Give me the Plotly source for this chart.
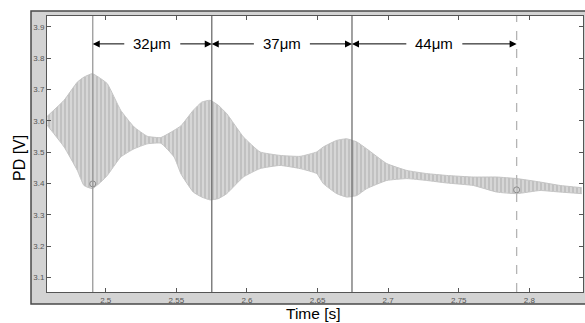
import plotly.graph_objects as go

# ---- data ----
t_env = [2.4586, 2.4705, 2.4799, 2.4846, 2.4905, 2.4965, 2.5011, 2.5106, 2.5200, 2.5295,
         2.5390, 2.5484, 2.5534, 2.5620, 2.5680, 2.5739, 2.5797, 2.5857, 2.5975, 2.6093,
         2.6234, 2.6376, 2.6494, 2.6541, 2.6636, 2.6707, 2.6778, 2.6848, 2.6990, 2.7132,
         2.7273, 2.7415, 2.7603, 2.7769, 2.7911, 2.8076, 2.8218, 2.8371]
upper_env = [3.615, 3.666, 3.724, 3.740, 3.751, 3.735, 3.719, 3.634, 3.581, 3.551,
             3.547, 3.570, 3.585, 3.634, 3.660, 3.666, 3.650, 3.623, 3.549, 3.501,
             3.490, 3.487, 3.501, 3.517, 3.538, 3.543, 3.533, 3.511, 3.464, 3.442,
             3.432, 3.426, 3.421, 3.421, 3.416, 3.405, 3.394, 3.387]
lower_env = [3.586, 3.517, 3.442, 3.394, 3.384, 3.405, 3.426, 3.485, 3.511, 3.527,
             3.529, 3.485, 3.430, 3.373, 3.357, 3.348, 3.352, 3.368, 3.421, 3.448,
             3.458, 3.448, 3.432, 3.400, 3.368, 3.357, 3.362, 3.384, 3.410, 3.416,
             3.410, 3.402, 3.394, 3.373, 3.368, 3.378, 3.373, 3.368]

marker_times = [2.4908, 2.5751, 2.6744, 2.791]
marker_styles = ["solid", "solid", "solid", "dash"]
marker_colors = ["#9a9a9a", "#6e6e6e", "#6e6e6e", "#b4b4b4"]
circle_t = [2.4908, 2.791]
circle_v = [3.399, 3.380]
gap_labels = ["32\u03bcm", "37\u03bcm", "44\u03bcm"]
arrow_level = 3.846

x_range = [2.4584, 2.838]
y_range = [3.054, 3.935]
x_ticks = [2.5, 2.55, 2.6, 2.65, 2.7, 2.75, 2.8]
x_ticktext = ["2.5", "2.55", "2.6", "2.65", "2.7", "2.75", "2.8"]
y_ticks = [3.1, 3.2, 3.3, 3.4, 3.5, 3.6, 3.7, 3.8, 3.9]

# ---- layout constants ----
W, H = 585, 323
ML, MR, MT, MB = 47, 2, 16, 31
PW, PH = W - ML - MR, H - MT - MB
FONT = "Liberation Sans, Arial, sans-serif"

fig = go.Figure()
fig.add_trace(go.Scatter(x=t_env, y=lower_env, mode="lines",
                         line=dict(color="#c4c4c4", width=1, shape="spline", smoothing=0.4),
                         hoverinfo="skip", showlegend=False))
fig.add_trace(go.Scatter(x=t_env, y=upper_env, mode="lines", fill="tonexty",
                         line=dict(color="#c4c4c4", width=1, shape="spline", smoothing=0.4),
                         fillcolor="#d2d2d2",
                         fillpattern=dict(shape="|", size=4, solidity=0.45,
                                          fgcolor="#a8a8a8", bgcolor="#d6d6d6"),
                         hoverinfo="skip", showlegend=False))
fig.add_trace(go.Scatter(x=circle_t, y=circle_v, mode="markers",
                         marker=dict(symbol="circle-open", size=6, color="#8a8a8a",
                                     line=dict(width=1)),
                         hoverinfo="skip", showlegend=False))

shapes = [
    # grey MATLAB-like frame
    dict(type="rect", xref="paper", yref="paper",
         x0=(31 - ML) / PW, x1=(W + 2 - ML) / PW,
         y0=-(304 - (H - MB)) / PH, y1=1 + (MT - 11) / PH,
         fillcolor="#d3d3d3", line=dict(color="#4a4a4a", width=1.5), layer="below"),
    dict(type="rect", xref="paper", yref="paper", x0=0, x1=1, y0=0, y1=1,
         fillcolor="white", line=dict(width=0), layer="below"),
]
for tm, st, col in zip(marker_times, marker_styles, marker_colors):
    shapes.append(dict(type="line", xref="x", yref="paper", x0=tm, x1=tm, y0=0, y1=1,
                       line=dict(color=col, width=1.3, dash=st)))

annotations = []
dpp = (x_range[1] - x_range[0]) / PW  # data units per pixel
half_gap = (41 / 2 + 6) * dpp
for i, lab in enumerate(gap_labels):
    a, b = marker_times[i], marker_times[i + 1]
    mid = (a + b) / 2
    annotations.append(dict(x=mid, y=arrow_level, xref="x", yref="y", text=lab,
                            showarrow=False, font=dict(family=FONT, size=15, color="black")))
    for tip, tail in ((a, mid - half_gap), (b, mid + half_gap)):
        annotations.append(dict(x=tip, y=arrow_level, ax=tail, ay=arrow_level,
                                xref="x", yref="y", axref="x", ayref="y", text="",
                                showarrow=True, arrowhead=2, arrowsize=1.4, arrowwidth=1,
                                arrowcolor="black"))

annotations.append(dict(x=(313 - ML) / PW, y=-(313.5 - (H - MB)) / PH, xref="paper", yref="paper",
                        text="Time [s]", showarrow=False, yanchor="middle",
                        font=dict(family=FONT, size=15.5, color="black")))
annotations.append(dict(x=(19 - ML) / PW, y=1 - (158 - MT) / PH, xref="paper", yref="paper",
                        text="PD [V]", showarrow=False, textangle=-90, xanchor="center",
                        yanchor="middle", font=dict(family=FONT, size=16, color="black")))

axis_common = dict(showline=True, linecolor="#555555", linewidth=1, mirror="ticks",
                   ticks="inside", ticklen=4, tickcolor="#555555", showgrid=False,
                   zeroline=False, tickfont=dict(family=FONT, size=8, color="#555555"))
fig.update_layout(
    width=W, height=H, margin=dict(l=ML, r=MR, t=MT, b=MB, autoexpand=False),
    paper_bgcolor="white", plot_bgcolor="white",
    xaxis=dict(range=x_range, tickvals=x_ticks, ticktext=x_ticktext, **axis_common),
    yaxis=dict(range=y_range, tickvals=y_ticks, ticktext=[f"{v:.1f}" for v in y_ticks],
               **axis_common),
    shapes=shapes, annotations=annotations, showlegend=False,
)
fig.write_html("out.html", config={"displayModeBar": False},
               post_script="document.body.style.margin='0px';document.body.style.overflow='hidden';")
